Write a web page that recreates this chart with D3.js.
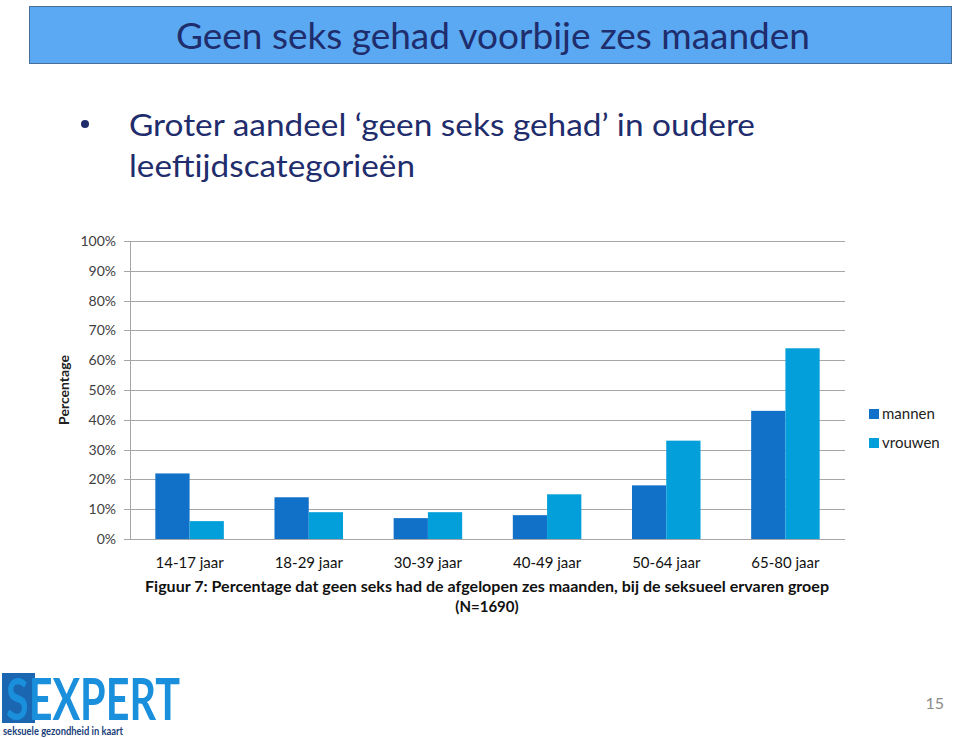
<!DOCTYPE html>
<html>
<head>
<meta charset="utf-8">
<script src="https://cdn.jsdelivr.net/npm/d3@7"></script>
<style>
  body { margin: 0; background: #fff; }
  svg { display: block; font-family: "Liberation Sans Narrow", Lato, "Open Sans", sans-serif; }
</style>
</head>
<body>
<svg id="chart" width="960" height="738"></svg>
<script>
// ─── Data ───
const categories = ["14-17 jaar", "18-29 jaar", "30-39 jaar", "40-49 jaar", "50-64 jaar", "65-80 jaar"];
const series = ["mannen", "vrouwen"];
const mannen = [22, 14, 7, 8, 18, 43];
const vrouwen = [6, 9, 9, 15, 33, 64];
const yTicks = [0, 10, 20, 30, 40, 50, 60, 70, 80, 90, 100];

const colors = { mannen: "#1170c8", vrouwen: "#039fda" };
const navy = "#1f2d6c";

const svg = d3.select("#chart");

// ─── Title box ───
svg.append("rect")
  .attr("x", 29.5).attr("y", 6.5).attr("width", 922).attr("height", 57)
  .attr("fill", "#5aa9f2").attr("stroke", "#4a6f96").attr("stroke-width", 1);

svg.append("text")
  .attr("x", 176).attr("y", 49)
  .attr("font-size", 36).attr("fill", navy)
  .attr("textLength", 634).attr("lengthAdjust", "spacingAndGlyphs")
  .text("Geen seks gehad voorbije zes maanden");

// ─── Bullet text ───
svg.append("circle").attr("cx", 85).attr("cy", 124).attr("r", 4).attr("fill", navy);
svg.append("text")
  .attr("x", 129).attr("y", 136)
  .attr("font-size", 31).attr("fill", navy)
  .attr("textLength", 626).attr("lengthAdjust", "spacingAndGlyphs")
  .text("Groter aandeel \u2018geen seks gehad\u2019 in oudere");
svg.append("text")
  .attr("x", 129).attr("y", 177)
  .attr("font-size", 31).attr("fill", navy)
  .attr("textLength", 286).attr("lengthAdjust", "spacingAndGlyphs")
  .text("leeftijdscategorie\u00ebn");

// ─── Chart ───
const plot = { left: 130, right: 845, top: 241, bottom: 539 };

const x0 = d3.scaleBand().domain(categories).range([plot.left, plot.right]).paddingInner(0.425).paddingOuter(0.2125);
const x1 = d3.scaleBand().domain(series).range([0, x0.bandwidth()]);
const y = d3.scaleLinear().domain([0, 100]).range([plot.bottom, plot.top]);

// grid
svg.append("g")
  .selectAll("line")
  .data(yTicks)
  .join("line")
  .attr("x1", plot.left - 6).attr("x2", plot.right)
  .attr("y1", (d) => Math.round(y(d)) + 0.5).attr("y2", (d) => Math.round(y(d)) + 0.5)
  .attr("stroke", "#a6a6a6").attr("stroke-width", 1);

svg.append("line")
  .attr("x1", plot.left + 0.5).attr("x2", plot.left + 0.5)
  .attr("y1", plot.top).attr("y2", plot.bottom)
  .attr("stroke", "#a6a6a6");

// y tick labels
svg.append("g")
  .selectAll("text")
  .data(yTicks)
  .join("text")
  .attr("x", 116).attr("y", (d) => y(d))
  .attr("dy", "0.35em").attr("text-anchor", "end")
  .attr("font-size", 14).attr("fill", "#404040")
  .text((d) => d + "%");

svg.append("text")
  .attr("transform", `translate(69,390) rotate(-90)`)
  .attr("text-anchor", "middle")
  .attr("font-size", 14).attr("font-weight", 700).attr("fill", "#222")
  .text("Percentage");

// bars
const rows = categories.map((c, i) => ({ cat: c, mannen: mannen[i], vrouwen: vrouwen[i] }));

svg.append("g")
  .selectAll("g")
  .data(rows)
  .join("g")
  .attr("transform", (d) => `translate(${x0(d.cat)},0)`)
  .selectAll("rect")
  .data((d) => series.map((s) => ({ key: s, value: d[s] })))
  .join("rect")
  .attr("x", (d) => x1(d.key))
  .attr("width", x1.bandwidth())
  .attr("y", (d) => y(d.value))
  .attr("height", (d) => y(0) - y(d.value))
  .attr("fill", (d) => colors[d.key]);

// x labels
svg.append("g")
  .selectAll("text")
  .data(categories)
  .join("text")
  .attr("x", (d) => x0(d) + x0.bandwidth() / 2)
  .attr("y", 568)
  .attr("text-anchor", "middle")
  .attr("font-size", 15).attr("fill", "#111")
  .text((d) => d);

// legend
const legend = svg.append("g")
  .selectAll("g")
  .data(series)
  .join("g")
  .attr("transform", (d, i) => `translate(869,${409 + i * 29})`);
legend.append("rect").attr("width", 10).attr("height", 10).attr("fill", (d) => colors[d]);
legend.append("text").attr("x", 13).attr("y", 5).attr("dy", "0.35em")
  .attr("font-size", 15).attr("fill", "#222").text((d) => d);

// caption
svg.append("text")
  .attr("x", 487).attr("y", 592).attr("text-anchor", "middle")
  .attr("font-size", 15).attr("font-weight", 700).attr("fill", "#111")
  .attr("textLength", 684).attr("lengthAdjust", "spacingAndGlyphs")
  .text("Figuur 7: Percentage dat geen seks had de afgelopen zes maanden, bij de seksueel ervaren groep");
svg.append("text")
  .attr("x", 487).attr("y", 612).attr("text-anchor", "middle")
  .attr("font-size", 15).attr("font-weight", 700).attr("fill", "#111")
  .text("(N=1690)");

// ─── Logo ───
const logo = svg.append("g").attr("transform", "translate(2,673)");
logo.append("rect").attr("x", 0).attr("y", 0).attr("width", 33).attr("height", 50).attr("fill", "#1a66b0");
logo.append("text")
  .attr("x", 4).attr("y", 47)
  .attr("font-size", 58).attr("font-weight", 700).attr("fill", "#1a8fdc")
  .attr("textLength", 174).attr("lengthAdjust", "spacingAndGlyphs")
  .text("SEXPERT");
logo.append("text")
  .attr("x", 1).attr("y", 62)
  .attr("font-size", 11).attr("font-weight", 700).attr("fill", "#1b3f7a")
  .attr("textLength", 120).attr("lengthAdjust", "spacingAndGlyphs")
  .text("seksuele gezondheid in kaart");

svg.append("text")
  .attr("x", 944).attr("y", 709).attr("text-anchor", "end")
  .attr("font-size", 16).attr("fill", "#8a8a8a")
  .text("15");
</script>
</body>
</html>
